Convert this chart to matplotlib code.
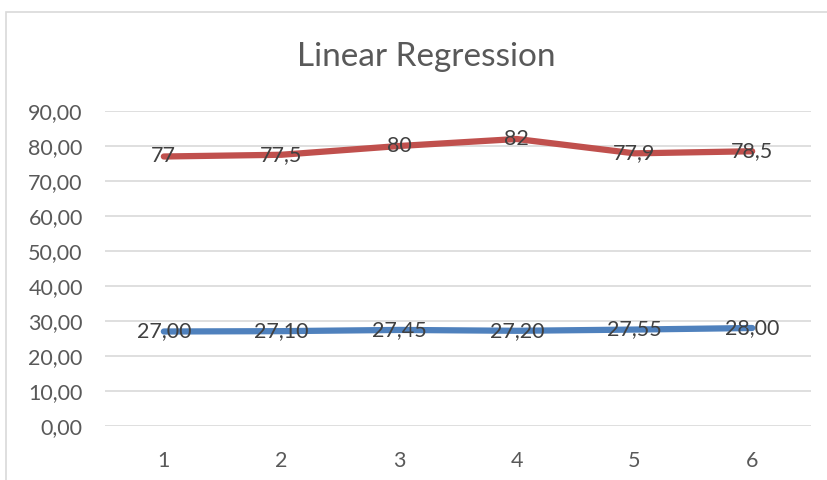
"""Excel-style line chart: 'Linear Regression' with two series and centred data labels."""

import matplotlib
matplotlib.use("Agg")
import matplotlib.pyplot as plt
from matplotlib.patches import Rectangle

x_values = [1, 2, 3, 4, 5, 6]
red_values = [77, 77.5, 80, 82, 77.9, 78.5]
red_labels = ["77", "77,5", "80", "82", "77,9", "78,5"]
blue_values = [27.00, 27.10, 27.45, 27.20, 27.55, 28.00]
blue_labels = ["27,00", "27,10", "27,45", "27,20", "27,55", "28,00"]
y_ticks = [0, 10, 20, 30, 40, 50, 60, 70, 80, 90]
y_tick_labels = ["0,00", "10,00", "20,00", "30,00", "40,00",
                 "50,00", "60,00", "70,00", "80,00", "90,00"]

RED = "#C0504D"
BLUE = "#4F81BD"
GRID = "#D9D9D9"
TEXT = "#595959"
LABEL = "#404040"

plt.rcParams["font.family"] = ["Lato", "DejaVu Sans"]

W, H = 827, 480
fig = plt.figure(figsize=(W / 100, H / 100), dpi=100)

# plot area in pixels: left 105, right 811, top 111 (90), bottom 426 (0)
ax = fig.add_axes([105 / W, 1 - 426 / H, (811 - 105) / W, (426 - 111) / H])
ax.set_xlim(0.5, 6.5)
ax.set_ylim(0, 90)

# chart border (cropped on the right and bottom)
fig.patches.append(Rectangle((6 / W, -0.1), 1.2, 1.1 - 12 / H,
                             transform=fig.transFigure, fill=False,
                             edgecolor=GRID, linewidth=1.2))

ax.set_yticks(y_ticks)
ax.set_yticklabels(y_tick_labels)
ax.set_xticks(x_values)
ax.set_xticklabels([str(v) for v in x_values])
ax.tick_params(length=0, labelsize=15.5, labelcolor=TEXT)
ax.tick_params(axis="y", pad=16)
ax.tick_params(axis="x", pad=18)
for s in ax.spines.values():
    s.set_visible(False)
ax.grid(axis="y", color=GRID, linewidth=1.2)
ax.set_axisbelow(True)

ax.plot(x_values, red_values, color=RED, linewidth=4.5, solid_capstyle="round",
        clip_on=False)
ax.plot(x_values, blue_values, color=BLUE, linewidth=4.5, solid_capstyle="round",
        clip_on=False)

for x, y, t in zip(x_values, red_values, red_labels):
    ax.text(x, y, t, ha="center", va="center", fontsize=15.5, color=LABEL)
for x, y, t in zip(x_values, blue_values, blue_labels):
    ax.text(x, y, t, ha="center", va="center", fontsize=15.5, color=LABEL)

fig.text(426 / W, 1 - 57 / H, "Linear Regression", ha="center", va="center",
         fontsize=24, color=TEXT)

fig.savefig("out.png", dpi=100)
